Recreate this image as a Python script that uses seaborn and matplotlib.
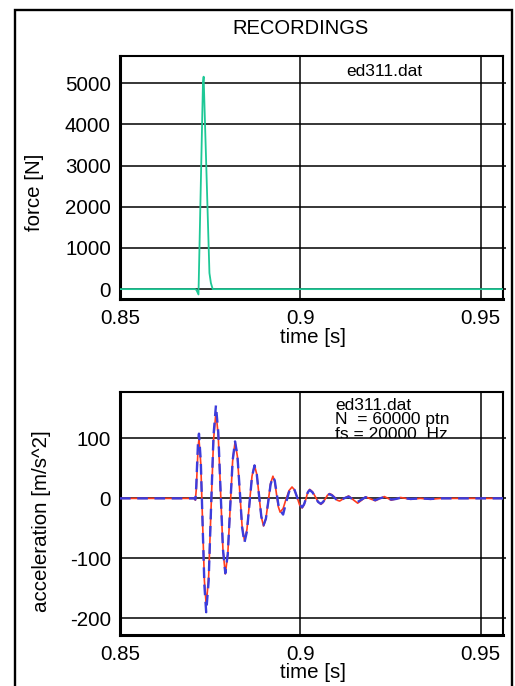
import matplotlib
matplotlib.use("Agg")
import matplotlib.pyplot as plt
import seaborn as sns
import pandas as pd
from matplotlib.patches import Rectangle
from matplotlib.transforms import Bbox, TransformedBbox

# ---------------- data ----------------
force_t = [0.8500, 0.8708, 0.8712, 0.87176, 0.8722, 0.8726, 0.8730, 0.87319,
           0.8736, 0.8740, 0.8744, 0.8748, 0.8752, 0.8757, 0.9562]
force_v = [0, 0, -20, -130, 1690, 3340, 5000, 5160,
           3940, 2760, 1570, 390, 150, 0, 0]

acc_t = [0.8500, 0.8706, 0.8709, 0.87115, 0.8714, 0.87165, 0.8719,
         0.8724, 0.8729, 0.8734, 0.8739,
         0.87458, 0.87525, 0.87593, 0.8766,
         0.87725, 0.8779, 0.87855, 0.8792,
         0.87988, 0.88055, 0.88123, 0.8819,
         0.88255, 0.8832, 0.88385, 0.8845,
         0.8852, 0.8859, 0.8866, 0.8873,
         0.88793, 0.88855, 0.88918, 0.8898,
         0.89045, 0.8911, 0.89175, 0.8924,
         0.8929, 0.8934, 0.8939, 0.8944,
         0.89523, 0.8960, 0.89688, 0.8977,
         0.8984, 0.8991, 0.8998, 0.9005,
         0.90103, 0.9016, 0.90208, 0.9026,
         0.90338, 0.90415, 0.90493, 0.9057,
         0.9063, 0.9069, 0.9075, 0.9081,
         0.9088, 0.9095, 0.9102, 0.9109,
         0.9121, 0.9134, 0.9146, 0.9159, 0.9170, 0.9181, 0.9195, 0.9208,
         0.9220, 0.9233, 0.9243, 0.9252, 0.9265, 0.9278, 0.9292, 0.9306,
         0.9333, 0.9361, 0.9390, 0.9562]

acc_measured = [0, 0, -3, 15, 50, 85, 99,
                58, -40, -137, -178,
                -131, -17, 97, 144,
                104, 9, -86, -126,
                -94, -16, 62, 94,
                70, 12, -46, -70,
                -52, -8, 37, 55,
                40, 5, -31, -46,
                -34, -5, 25, 37,
                28, 7, -14, -23,
                -17, -2, 13, 19,
                14, 2, -11, -16,
                -11, 0, 11, 15,
                11, 3, -6, -10,
                -7, -1, 5, 8,
                6, 2, -3, -4.5,
                0, 4, -2, -8, -3, 2.5, -1, -4,
                -0.5, 3, 0, -3, -1, 1.5, 0, -1.5,
                0, -1.5, 0, 0]

acc_model = [0, 0, -2, 20, 60, 95, 108,
             62, -42, -145, -190,
             -138, -15, 105, 155,
             110, 10, -85, -125,
             -93, -15, 63, 95,
             72, 14, -48, -74,
             -55, -9, 36, 55,
             40, 5, -30, -45,
             -34, -6, 23, 36,
             30, 10, -10, -20,
             -27, -8, 11, 18,
             14, 2, -10, -15,
             -10, 0, 10, 14,
             10, 2, -6, -9,
             -6, -1, 5, 7,
             5, 1, -3, -4,
             0, 3, -2, -6, -2, 2, -1, -3,
             0, 2, 0, -2, -1, 1, 0, -1,
             0, -1, 0, 0]

x_ticks = [0.85, 0.9, 0.95]
x_ticklabels = ["0.85", "0.9", "0.95"]
force_ticks = [0, 1000, 2000, 3000, 4000, 5000]
acc_ticks = [-200, -100, 0, 100]

title_text = "RECORDINGS"
file_text = "ed311.dat"
info_lines = ["ed311.dat", "N  = 60000 ptn", "fs = 20000  Hz"]

# ---------------- style ----------------
sns.set_theme(style="white")
plt.rcParams["font.family"] = ["Liberation Sans", "DejaVu Sans"]
plt.rcParams["axes.unicode_minus"] = False

W, H = 515, 686
fig = plt.figure(figsize=(W / 100, H / 100), dpi=100)
fig.patch.set_facecolor("white")

def fx(x):
    return x / W

def fy(y):
    return 1 - y / H

ax1 = fig.add_axes([fx(120), fy(299), fx(503) - fx(120), fy(55.7) - fy(299)])
ax2 = fig.add_axes([fx(120), fy(635), fx(503) - fx(120), fy(391.7) - fy(635)])

GREEN = "#1ec896"
RED = "#ff3c1e"
BLUE = "#3c3cdc"

df_f = pd.DataFrame({"t": force_t, "F": force_v})
df_a = pd.DataFrame({"t": acc_t, "meas": acc_measured, "model": acc_model})

sns.lineplot(data=df_f, x="t", y="F", ax=ax1, color=GREEN, linewidth=1.3,
             estimator=None, sort=False, zorder=3)
sns.lineplot(data=df_a, x="t", y="meas", ax=ax2, color=RED, linewidth=1.2,
             estimator=None, sort=False, zorder=3)
sns.lineplot(data=df_a, x="t", y="model", ax=ax2, color=BLUE, linewidth=1.7,
             estimator=None, sort=False, zorder=4, linestyle=(0, (4.5, 2.8)))

FS = 14.8
for ax, yt, ylim in [(ax1, force_ticks, (-240, 5670)), (ax2, acc_ticks, (-228, 178))]:
    ax.set_xlim(0.85, 0.9562)
    ax.set_ylim(*ylim)
    ax.set_xticks(x_ticks)
    ax.set_xticklabels(x_ticklabels)
    ax.set_yticks(yt)
    ax.set_yticklabels([str(v) for v in yt])
    ax.grid(True, color="black", linewidth=1.1, linestyle="-")
    ax.set_axisbelow(True)
    ax.tick_params(axis="both", labelsize=FS, colors="black")
    ax.tick_params(axis="y", left=False, right=True, direction="out",
                   length=2.5, width=1.1, pad=4)
    ax.tick_params(axis="x", bottom=False, pad=1.5)
    for side in ["left", "bottom"]:
        ax.spines[side].set_linewidth(2.2)
        ax.spines[side].set_color("black")
    for side in ["top", "right"]:
        ax.spines[side].set_linewidth(1.5)
        ax.spines[side].set_color("black")
    ax.set_xlabel("time [s]", fontsize=FS, color="black", va="center")

ax1.set_ylabel("force [N]", fontsize=FS, color="black", va="center")
ax2.set_ylabel("acceleration [m/s^2]", fontsize=FS, color="black", va="center")
ax1.yaxis.set_label_coords(-0.2245, 0.438)
ax2.yaxis.set_label_coords(-0.206, 0.469)
ax1.xaxis.set_label_coords(0.504, -0.160)
ax2.xaxis.set_label_coords(0.504, -0.156)

# title
fig.text(fx(300), fy(28.5), title_text, ha="center", va="center",
         fontsize=14.5, color="black")

# annotation in top panel
fig.text(fx(346.7), fy(75.7), file_text, ha="left", va="baseline",
         fontsize=12.5, color="black")

# annotation in bottom panel, clipped at the 100 grid line
clip = TransformedBbox(Bbox([[0.85, 100], [0.9562, 178]]), ax2.transData)
for i, line in enumerate(info_lines):
    t = fig.text(fx(335), fy(409.7 + 14.5 * i), line, ha="left", va="baseline",
                 fontsize=12.5, color="black", zorder=1)
    t.set_clip_box(clip)
    t.set_clip_on(True)

# outer frame
fig.patches.append(Rectangle((fx(15), -0.05), fx(512) - fx(15), fy(10) + 0.05,
                             transform=fig.transFigure, fill=False,
                             edgecolor="black", linewidth=1.7))

fig.savefig("out.png", dpi=100, facecolor="white")
